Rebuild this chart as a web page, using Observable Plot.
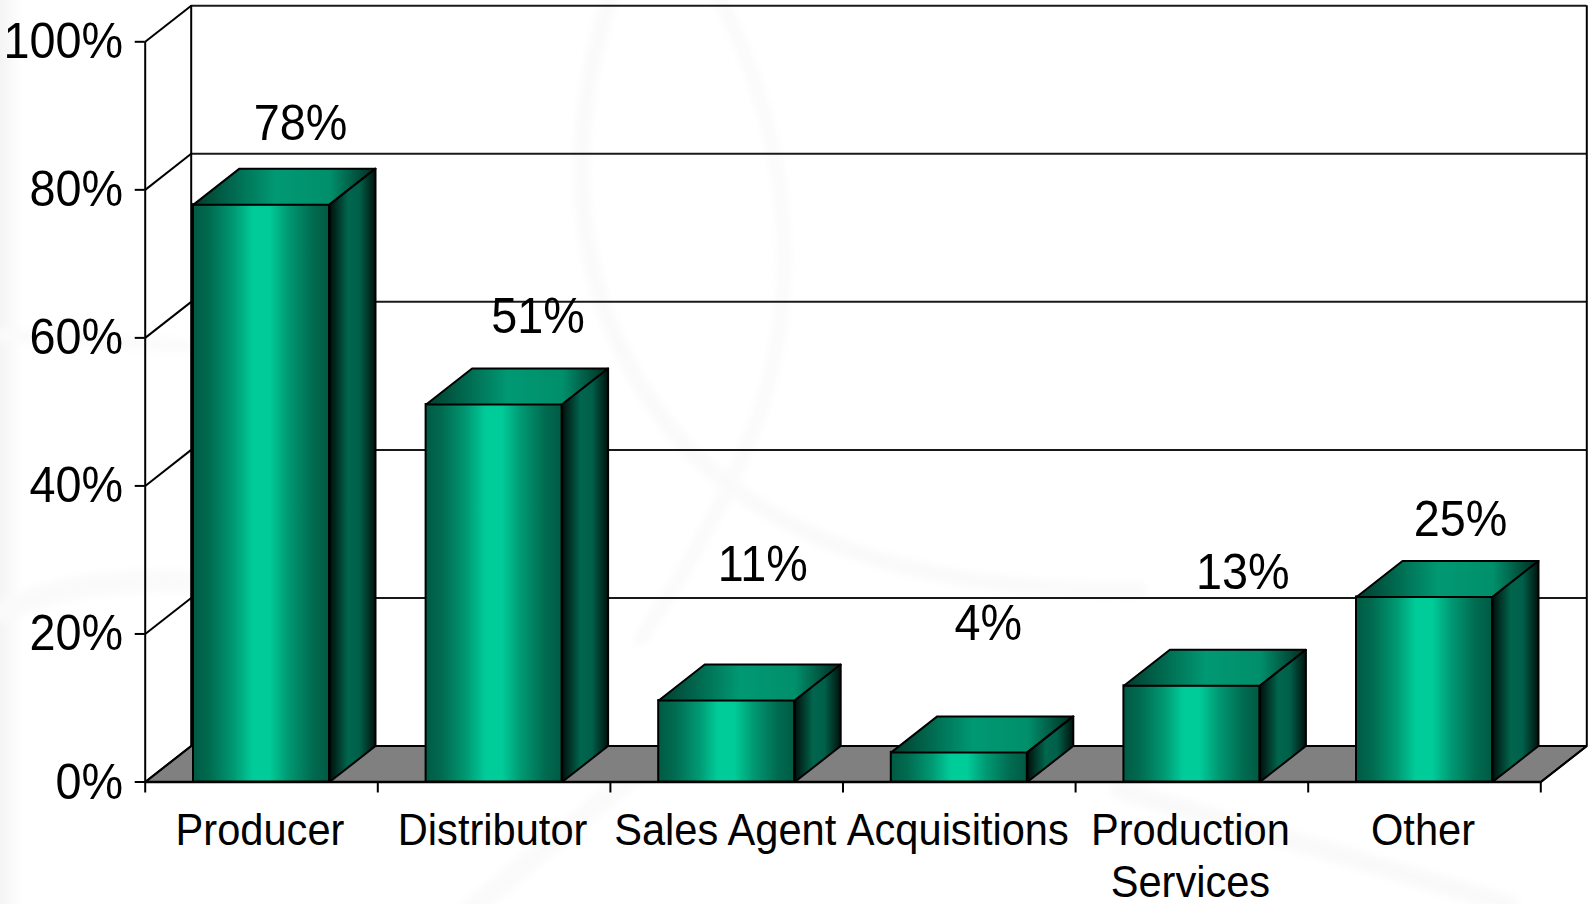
<!DOCTYPE html>
<html>
<head>
<meta charset="utf-8">
<script src="https://cdn.jsdelivr.net/npm/d3@7"></script>
<script src="https://cdn.jsdelivr.net/npm/@observablehq/plot@0.6"></script>
<style>
html,body{margin:0;padding:0;width:1589px;height:904px;overflow:hidden;background-color:#fff;}
</style>
</head>
<body>
<script>
const categories = ["Producer", "Distributor", "Sales Agent", "Acquisitions", "Production\nServices", "Other"];
const shares = [78, 51, 11, 4, 13, 25];
const valueLabels = ["78%", "51%", "11%", "4%", "13%", "25%"];
const axisLevels = [0, 20, 40, 60, 80, 100];

// Faint watermark behind the chart
const watermark = `<svg xmlns="http://www.w3.org/2000/svg" width="1589" height="904">
<defs><filter id="b" x="-10%" y="-10%" width="120%" height="120%"><feGaussianBlur stdDeviation="4"/></filter>
<linearGradient id="e"><stop offset="0" stop-color="#f4f4f4"/><stop offset="1" stop-color="#fff"/></linearGradient></defs>
<rect width="22" height="904" fill="url(#e)"/>
<g fill="none" filter="url(#b)" stroke-linecap="round">
<path d="M612 -10C560 150 570 310 680 440C790 560 960 592 1140 590" stroke="#f9f9f9" stroke-width="14"/>
<path d="M715 -10C790 130 810 300 745 450C720 510 680 580 640 640" stroke="#fafafa" stroke-width="13"/>
<path d="M0 335L190 346" stroke="#fbfbfb" stroke-width="14"/>
<path d="M0 612Q80 575 190 582" stroke="#fafafa" stroke-width="22"/>
<path d="M470 910L640 770" stroke="#fafafa" stroke-width="20"/>
<path d="M1120 790L1510 905" stroke="#f9f9f9" stroke-width="18"/>
</g></svg>`;
document.body.style.backgroundImage = `url("data:image/svg+xml,${encodeURIComponent(watermark)}")`;
document.body.style.backgroundRepeat = "no-repeat";

// Layout (depth of the 3D box, expressed in scale units)
const depthX = 46 / 232.6, depthY = 36 / 7.4, barHalf = 68 / 232.6;
const pxX = 1 / 232.6, pxY = 1 / 7.4;
const nudge = [[39, -81], [44, -87], [36, -136], [29, -128], [51, -113], [36, -77]];

const bars = shares.map((v, i) => ({i, v, x1: i + 0.5 - barHalf, x2: i + 0.5 + barHalf}));
const poly = (pts) => bars.flatMap(b => pts(b).map(([x, y]) => ({bar: b.i, x, y})));
const topFaces = poly(b => [[b.x1, b.v], [b.x2, b.v], [b.x2 + depthX, b.v + depthY], [b.x1 + depthX, b.v + depthY]]);
const sideFaces = poly(b => [[b.x2, 0], [b.x2, b.v], [b.x2 + depthX, b.v + depthY], [b.x2 + depthX, depthY]]);
const floorPts = [[0, 0], [6, 0], [6 + depthX, depthY], [depthX, depthY]].map(([x, y]) => ({x, y}));

function gradient(id, stops) {
  const g = document.createElementNS("http://www.w3.org/2000/svg", "linearGradient");
  g.setAttribute("id", id);
  for (const [o, c] of stops) {
    const s = document.createElementNS("http://www.w3.org/2000/svg", "stop");
    s.setAttribute("offset", o);
    s.setAttribute("stop-color", c);
    g.appendChild(s);
  }
  return g;
}
const defsMark = () => {
  const d = document.createElementNS("http://www.w3.org/2000/svg", "defs");
  d.appendChild(gradient("front", [[0, "#005a44"], [0.12, "#006b50"], [0.3, "#009973"], [0.44, "#00cc99"], [0.56, "#00cc99"], [0.7, "#009973"], [0.88, "#006b50"], [1, "#005a44"]]));
  d.appendChild(gradient("top", [[0, "#003d2e"], [0.45, "#009973"], [0.75, "#008f6b"], [1, "#002a20"]]));
  d.appendChild(gradient("side", [[0, "#000f0b"], [0.4, "#00664d"], [0.65, "#00604a"], [1, "#00120d"]]));
  return d;
};

const sw = 2;
const plot = Plot.plot({
  width: 1589,
  height: 904,
  marginLeft: 144.7,
  marginRight: 48.7,
  marginTop: 41.3,
  marginBottom: 122.5,
  style: {background: "transparent", fontFamily: "Liberation Sans, Arial, sans-serif", color: "#000", overflow: "visible"},
  x: {domain: [0, 6], axis: null},
  y: {domain: [0, 100], axis: null},
  marks: [
    defsMark,
    Plot.line(floorPts, {x: "x", y: "y", curve: "linear-closed", fill: "#808080", stroke: "#000", strokeWidth: sw}),
    Plot.ruleY(axisLevels.slice(1), {y: d => d + depthY, x1: () => depthX, x2: () => 6 + depthX, stroke: "#000", strokeWidth: sw, strokeOpacity: 0.9}),
    Plot.link(axisLevels, {x1: () => 0, y1: d => d, x2: () => depthX, y2: d => d + depthY, stroke: "#000", strokeWidth: sw, markerEnd: "none"}),
    Plot.ruleX([depthX, 6 + depthX], {y1: depthY, y2: 100 + depthY, stroke: "#000", strokeWidth: sw}),
    Plot.ruleX([0], {y1: 0, y2: 100, stroke: "#000", strokeWidth: sw}),
    Plot.ruleY([0], {x1: () => 0, x2: () => 6, stroke: "#000", strokeWidth: 2.5}),
    Plot.link([0], {x1: () => 6, y1: () => 0, x2: () => 6 + depthX, y2: () => depthY, stroke: "#000", strokeWidth: sw}),
    Plot.axisY({ticks: axisLevels, tickSize: 10, tickFormat: () => "", strokeWidth: sw, label: null}),
    Plot.axisY({ticks: axisLevels, tickSize: 0, tickPadding: 22, dy: 0.5, tickFormat: d => d + "%", fontSize: 50, label: null, marginLeft: 144.7}),
    Plot.axisX({ticks: [0, 1, 2, 3, 4, 5, 6], tickSize: 11, tickFormat: () => "", strokeWidth: sw, label: null}),
    Plot.axisX({ticks: [0.5, 1.5, 2.5, 3.5, 4.5, 5.5], tickSize: 0, tickPadding: 27, dx: -1.5, tickFormat: d => categories[d - 0.5], fontSize: 44.5, lineHeight: 1.15, textOverflow: null, label: null}),
    Plot.rect(bars, {x1: "x1", x2: "x2", y1: 0, y2: "v", fill: "url(#front)", stroke: "#000", strokeWidth: sw}),
    Plot.line(topFaces, {x: "x", y: "y", z: "bar", curve: "linear-closed", fill: "url(#top)", stroke: "#000", strokeWidth: sw}),
    Plot.line(sideFaces, {x: "x", y: "y", z: "bar", curve: "linear-closed", fill: "url(#side)", stroke: "#000", strokeWidth: sw}),
    Plot.text(valueLabels, {
      x: (d, i) => i + 0.5 + nudge[i][0] * pxX,
      y: (d, i) => shares[i] + -nudge[i][1] * pxY,
      text: d => d,
      fontSize: 50,
      fill: "#000"
    })
  ]
});
document.body.appendChild(plot);

// The reference's type is slightly condensed horizontally
const squeeze = 0.935;
plot.querySelectorAll("text").forEach(t => {
  const spans = t.querySelectorAll("tspan");
  const els = spans.length ? [...spans] : [t];
  els.forEach(e => {
    if (!e.textContent) return;
    const len = e.getComputedTextLength();
    e.setAttribute("textLength", (len * squeeze).toFixed(1));
    e.setAttribute("lengthAdjust", "spacingAndGlyphs");
  });
});
</script>
</body>
</html>
